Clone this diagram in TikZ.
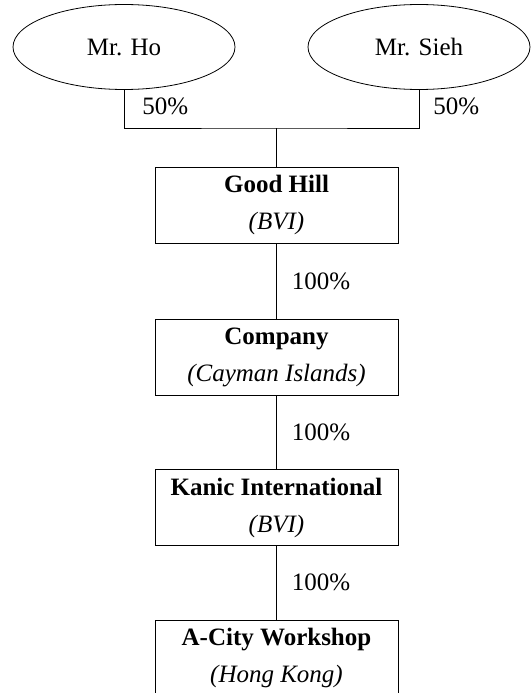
\documentclass[tikz,border=0pt]{standalone}
\usepackage{fontspec}
\setmainfont{Liberation Serif}
\usepackage{tikz}
\usetikzlibrary{positioning}
\usetikzlibrary{shapes}
\tikzset{owner/.style={draw, ellipse, line width=0.8pt, minimum width=222pt, minimum height=85pt, inner sep=0pt}}
\tikzset{firm/.style={draw, rectangle, line width=0.8pt, minimum width=243pt, minimum height=76pt, inner sep=0pt, align=center}}
\tikzset{share/.style={inner sep=0pt}}
\begin{document}
\begin{tikzpicture}[x=1pt,y=1pt,font=\fontsize{25}{37}\selectfont,line width=0.8pt]
\useasboundingbox (0,0) rectangle (530,-693);
\node[owner] (ho) at (124,-47) {Mr. Ho};
\node[owner] (sieh) at (419,-47) {Mr. Sieh};
\coordinate (join) at (276.5,-128);
\draw (ho.south) |- (join) -| (sieh.south);
\node[share, anchor=west] (hoshare) at (142,-106) {50\%};
\node[share, anchor=west] (siehshare) at (433,-106) {50\%};
\node[firm] (goodhill) at (276.5,-205) {\textbf{Good Hill}\\\textit{(BVI)}};
\node[firm] (company) at (276.5,-357) {\textbf{Company}\\\textit{(Cayman Islands)}};
\node[firm] (kanic) at (276.5,-507.5) {\textbf{Kanic International}\\\textit{(BVI)}};
\node[firm] (acity) at (276.5,-658) {\textbf{A-City Workshop}\\\textit{(Hong Kong)}};
\draw (join) -- (goodhill);
\draw (goodhill) -- (company) node[share, midway, right=15pt] {100\%};
\draw (company) -- (kanic) node[share, midway, right=15pt] {100\%};
\draw (kanic) -- (acity) node[share, midway, right=15pt] {100\%};
\end{tikzpicture}
\end{document}
